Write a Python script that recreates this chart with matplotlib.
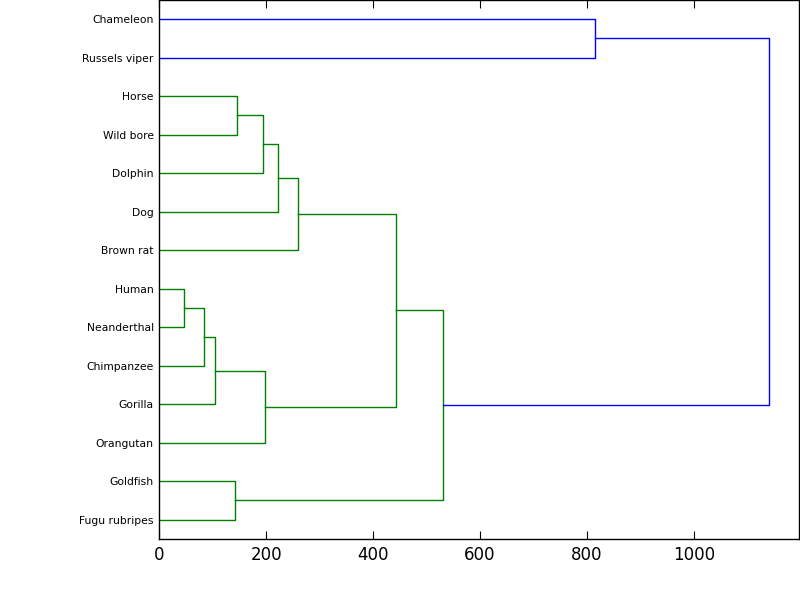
import numpy as np
import matplotlib
matplotlib.use("Agg")
import matplotlib.pyplot as plt

# linkage: each merge joins two nodes (a leaf name or an
# earlier merge index) at the given distance
merge_a = ["Neanderthal", "Chimpanzee", "Gorilla", "Orangutan",
           "Wild bore", "Dolphin", "Dog", "Brown rat",
           3, "Fugu rubripes", 9, "Russels viper", 10]
merge_b = ["Human", 0, 1, 2,
           "Horse", 4, 5, 6,
           7, "Goldfish", 8, "Chameleon", 11]
heights = [46, 83, 104, 198, 145, 194, 223, 260, 442, 141, 530, 816, 1140]

xticks = [0, 200, 400, 600, 800, 1000]

# work out leaf order (first leaf at the bottom) and node positions
leaf_order = []
pos = {}


def place(node):
    if isinstance(node, str):
        leaf_order.append(node)
        return
    place(merge_a[node])
    place(merge_b[node])


place(len(heights) - 1)


def node_y_h(node):
    if isinstance(node, str):
        return 5 + 10 * leaf_order.index(node), 0
    ya, _ = node_y_h(merge_a[node])
    yb, _ = node_y_h(merge_b[node])
    return (ya + yb) / 2.0, heights[node]


threshold = 0.7 * max(heights)

fig = plt.figure(figsize=(8, 6), dpi=100, facecolor="white")
ax = fig.add_axes([0.199, 0.1017, 0.8, 0.8983])

for i in range(len(heights)):
    ya, ha = node_y_h(merge_a[i])
    yb, hb = node_y_h(merge_b[i])
    h = heights[i]
    col = "g" if h < threshold else "b"
    ax.plot([ha, h, h, hb], [ya, ya, yb, yb], color=col, lw=1.0)

ax.set_ylim(0, 10 * len(leaf_order))
ax.set_xlim(0, max(heights) * 1.05)
ax.set_yticks([5 + 10 * i for i in range(len(leaf_order))])
ax.set_yticklabels(leaf_order, fontsize=7.75)
ax.set_xticks(xticks)
ax.tick_params(axis="x", direction="in", length=5.5, top=True, labelsize=12, pad=5)
ax.tick_params(axis="y", length=0, pad=4)
for s in ax.spines.values():
    s.set_linewidth(1.0)

fig.savefig("out.png", dpi=100, facecolor="white")
